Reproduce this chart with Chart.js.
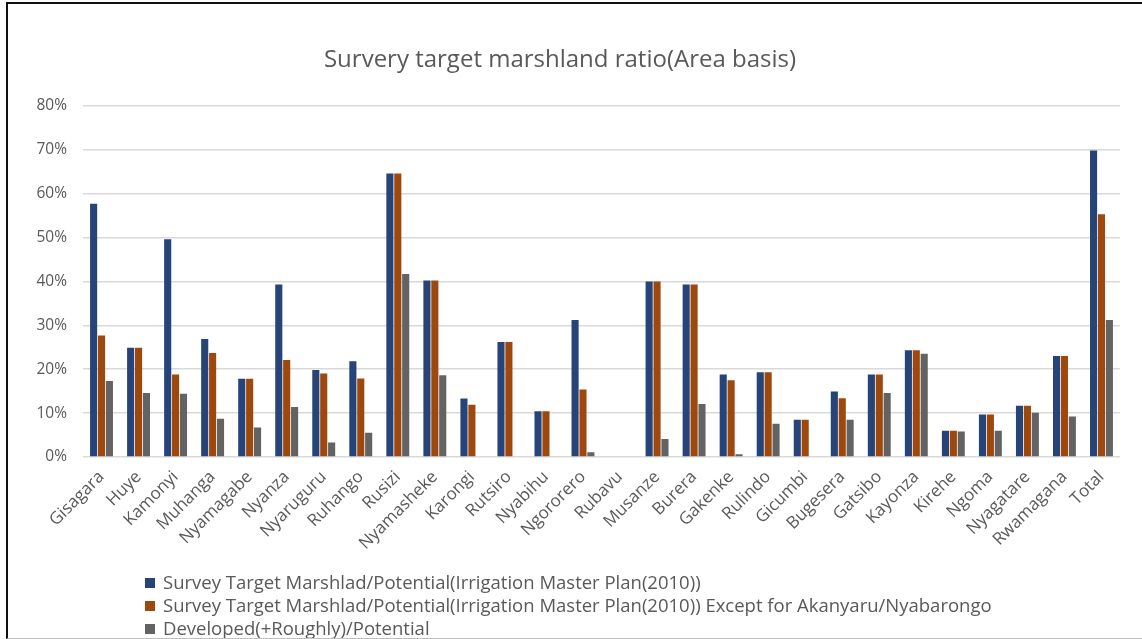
<!DOCTYPE html>
<html>
<head>
<meta charset="utf-8">
<script src="https://cdn.jsdelivr.net/npm/chart.js@4.4.0/dist/chart.umd.min.js"></script>
<style>
    body { margin: 0; background: #fff; }
    #wrap { position: relative; width: 1142px; height: 639px; }
    #frame {
        position: absolute; left: 6px; top: 2px; right: 0; bottom: 0;
        border-left: 2px solid #111; border-top: 2px solid #111;
        border-bottom: 1px solid #bfbfbf; pointer-events: none;
    }
</style>
</head>
<body>
<div id="wrap">
    <canvas id="ratioChart" width="1142" height="639"></canvas>
    <div id="frame"></div>
</div>
<script>
// Districts
const districts = ['Gisagara', 'Huye', 'Kamonyi', 'Muhanga', 'Nyamagabe', 'Nyanza', 'Nyaruguru', 'Ruhango',
    'Rusizi', 'Nyamasheke', 'Karongi', 'Rutsiro', 'Nyabihu', 'Ngororero', 'Rubavu', 'Musanze', 'Burera',
    'Gakenke', 'Rulindo', 'Gicumbi', 'Bugesera', 'Gatsibo', 'Kayonza', 'Kirehe', 'Ngoma', 'Nyagatare',
    'Rwamagana', 'Total'];

// Values in percent
const targetMasterPlan = [57.7, 24.9, 49.6, 26.9, 17.8, 39.3, 19.8, 21.8, 64.6, 40.2, 13.3, 26.2, 10.4, 31.2,
    0, 40.0, 39.3, 18.8, 19.3, 8.5, 14.9, 18.8, 24.3, 6.0, 9.7, 11.7, 23.0, 69.8];
const targetExceptAkanyaru = [27.7, 24.9, 18.8, 23.7, 17.8, 22.1, 19.0, 17.9, 64.6, 40.2, 11.9, 26.2, 10.4, 15.4,
    0, 40.0, 39.3, 17.5, 19.3, 8.5, 13.4, 18.8, 24.3, 6.0, 9.7, 11.7, 23.0, 55.3];
const developedRatio = [17.3, 14.6, 14.4, 8.7, 6.7, 11.4, 3.3, 5.5, 41.7, 18.6, 0, 0, 0, 1.1,
    0, 4.1, 12.1, 0.6, 7.6, 0, 8.5, 14.6, 23.5, 5.8, 6.0, 10.1, 9.2, 31.2];

const yTicks = [0, 10, 20, 30, 40, 50, 60, 70, 80];

const seriesNames = [
    'Survey Target Marshlad/Potential(Irrigation Master Plan(2010))',
    'Survey Target Marshlad/Potential(Irrigation Master Plan(2010)) Except for Akanyaru/Nyabarongo',
    'Developed(+Roughly)/Potential'
];
const seriesColors = ['#264478', '#9e480e', '#636363'];

const textColor = '#595959';
const fontFamily = '"Open Sans", "Noto Sans", sans-serif';

// Vertical legend under the axis, drawn on the canvas
const stackedLegend = {
    id: 'stackedLegend',
    afterDraw(chart) {
        const ctx = chart.ctx;
        ctx.save();
        ctx.font = '18.5px ' + fontFamily;
        ctx.textBaseline = 'middle';
        chart.data.datasets.forEach((ds, i) => {
            const y = 583 + i * 23;
            ctx.fillStyle = ds.backgroundColor;
            ctx.fillRect(145, y - 5, 10, 10);
            ctx.fillStyle = textColor;
            ctx.fillText(ds.label, 163, y + 1);
        });
        ctx.restore();
    }
};

const ctx = document.getElementById('ratioChart').getContext('2d');
new Chart(ctx, {
    type: 'bar',
    data: {
        labels: districts,
        datasets: [
            { label: seriesNames[0], data: targetMasterPlan, backgroundColor: seriesColors[0] },
            { label: seriesNames[1], data: targetExceptAkanyaru, backgroundColor: seriesColors[1] },
            { label: seriesNames[2], data: developedRatio, backgroundColor: seriesColors[2] }
        ]
    },
    options: {
        responsive: false,
        animation: false,
        layout: { padding: { left: 0, right: 22, top: 0, bottom: 82 } },
        datasets: {
            bar: { categoryPercentage: 0.64, barPercentage: 0.9 }
        },
        plugins: {
            legend: { display: false },
            tooltip: { enabled: false },
            title: {
                display: true,
                text: 'Survery target marshland ratio(Area basis)',
                color: textColor,
                font: { family: fontFamily, size: 24, weight: 'normal' },
                padding: { top: 46, bottom: 31 }
            }
        },
        scales: {
            x: {
                grid: { display: false },
                border: { display: false },
                ticks: {
                    color: textColor,
                    font: { family: fontFamily, size: 17 },
                    maxRotation: 45,
                    minRotation: 45,
                    autoSkip: false,
                    padding: 2
                },
                afterFit: s => { s.height = 100; }
            },
            y: {
                min: 0,
                max: 80,
                afterBuildTicks: s => { s.ticks = yTicks.map(v => ({ value: v })); },
                grid: { color: '#d9d9d9', lineWidth: 1.5, drawTicks: false },
                border: { display: false },
                ticks: {
                    color: textColor,
                    font: { family: fontFamily, size: 15.5 },
                    padding: 16,
                    callback: v => v + '%'
                },
                afterFit: s => { s.width = 83; }
            }
        }
    },
    plugins: [stackedLegend]
});
</script>
</body>
</html>
